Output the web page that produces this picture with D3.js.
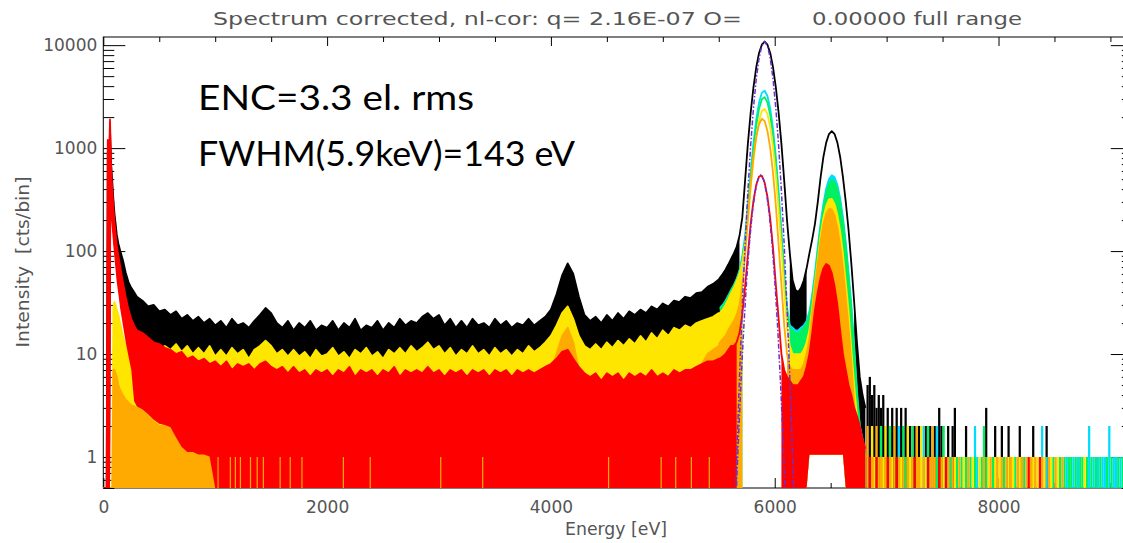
<!DOCTYPE html>
<html>
<head>
<meta charset="utf-8">
<script src="https://cdn.jsdelivr.net/npm/d3@7"></script>
<style>
  body { margin: 0; background: #fff; }
  svg { display: block; }
  .axis text { font-family: "DejaVu Sans", sans-serif; font-size: 17px; fill: #555; }
  .axis line { stroke: #000; }
  .label { font-family: "DejaVu Sans", sans-serif; font-size: 18px; fill: #555; white-space: pre; }
  .note { font-family: "Lato", sans-serif; font-size: 35px; fill: #000; }
</style>
</head>
<body>
<div id="chart"></div>
<script>
// ---- texts ----
const chartTitle = ["Spectrum corrected, nl-cor: q= 2.16E-07 O=", "0.00000 full range"];
const xAxisLabel = "Energy [eV]";
const yAxisLabel = "Intensity  [cts/bin]";
const notes = ["ENC=3.3 el. rms", "FWHM(5.9keV)=143 eV"];

// ---- axes ----
const floorCount = 0.5;
const topCount = 12000;
const energyMax = 9200;
const xTickValues = [0, 2000, 4000, 6000, 8000];
const xTickLabels = ["0", "2000", "4000", "6000", "8000"];
const yTickValues = [1, 10, 100, 1000, 10000];
const yTickLabels = ["1", "10", "100", "1000", "10000"];

// ---- low energy / continuum part (upper edge of the noisy histogram, cts/bin) ----
const bgEnergy = [0, 30, 40, 50, 60, 70, 80, 90, 100, 110, 120, 135, 150, 175, 200, 225, 250, 275, 300]
  .concat(d3.range(350, 5501, 50));

const bgBlack = [0.5, 0.5, 900, 500, 1500, 700, 480, 320, 230, 185, 145, 118, 102, 82, 62, 50, 44, 40, 36,
  33, 29, 30, 26, 27, 24, 26, 22, 24, 21,
  23, 20, 22, 19, 21, 18, 22, 19, 20, 18,
  21, 24, 28, 25, 20, 18, 21, 17, 20, 18,
  21, 17, 19, 18, 21, 17, 20, 18, 22, 17,
  19, 18, 21, 17, 20, 18, 22, 19, 21, 20,
  23, 25, 22, 24, 19, 22, 18, 21, 18, 22,
  19, 20, 18, 22, 19, 21, 18, 20, 19, 22,
  19, 21, 23, 27, 38, 58, 76, 60, 36, 24,
  21, 23, 20, 24, 21, 25, 22, 26, 24, 27,
  25, 29, 27, 31, 29, 33, 32, 36, 35, 39,
  40, 45, 48, 53];
const bgBlackLo = [0.5, 0.5, 0.5, 0.5, 0.5, 250, 180, 130, 100, 75, 58, 44, 34, 25, 18, 12, 8, 6, 4.5];

const bgYellow = [0.5, 0.5, 0.5, 0.5, 0.5, 0.5, 0.5, 28, 32, 30, 27, 24, 20, 15, 12, 10, 9, 8.5, 8.5,
  9, 9.5, 10, 11, 12, 11, 12.5, 10.5, 12, 10,
  11.5, 10, 12, 9.5, 11, 9.5, 11.5, 10, 11, 9,
  11, 12, 13.5, 12, 10, 11, 9.5, 11, 9.5, 10.5,
  9, 11, 9.5, 10, 11.5, 9.5, 10.5, 9, 11, 10,
  11.5, 9.5, 10.5, 9, 11, 10, 11.5, 10, 12, 10.5,
  11.5, 13, 11, 12, 10, 11.5, 9.5, 11, 10, 12,
  10, 11, 9.5, 11.5, 10, 11, 9.5, 11, 10, 12,
  10.5, 11.5, 13, 15, 19, 25, 29, 22, 15, 12,
  11, 12.5, 11, 13, 11.5, 13.5, 12, 14, 12.5, 15,
  13, 16, 14, 17, 15, 18, 17, 19, 18, 20,
  21, 22, 23, 25];

const bgOrange = [0.5, 0.5, 0.5, 0.5, 0.5, 0.5, 0.5, 7, 7, 6.5, 6, 5, 4.5, 4, 3.6, 3.4, 3.2, 3.1, 3,
  2.8, 2.5, 2.2, 2, 2, 1.9, 1.5, 1.2, 1.1, 1.1,
  1.05, 1.05, 1, 0.5, 0.5, 0.5, 0.5, 0.5, 0.5, 0.5,
  0.5, 0.5, 0.5, 0.5, 0.5, 0.5, 0.5, 0.5, 0.5, 0.5,
  0.5, 0.5, 0.5, 0.5, 0.5, 0.5, 0.5, 0.5, 0.5, 0.5,
  0.5, 0.5, 0.5, 0.5, 0.5, 0.5, 0.5, 0.5, 0.5, 0.5,
  0.5, 0.5, 0.5, 0.5, 0.5, 0.5, 0.5, 0.5, 0.5, 0.5,
  0.5, 0.5, 0.5, 0.5, 0.5, 0.5, 0.5, 0.5, 0.5, 0.5,
  0.5, 0.5, 0.5, 7, 10, 15, 18, 13, 7, 4,
  4, 4, 4, 4, 4, 4, 4, 4, 4, 4,
  4, 4, 4, 4, 4, 4, 4, 4, 4, 4,
  8, 10, 11, 12];

const bgRed = [0.5, 0.5, 1200, 700, 1900, 650, 400, 270, 190, 150, 115, 90, 72, 50, 36, 27, 22, 19, 17,
  16, 14.5, 13, 12.5, 11.5, 11, 10, 10.5, 9, 9.5,
  8.5, 9, 8, 8.5, 7.5, 8.5, 7, 8, 7.5, 8,
  7, 8, 8.5, 7.5, 7, 7.5, 6.5, 7.5, 6.5, 7,
  6, 7, 6.5, 7, 6, 7, 6.5, 7.5, 6, 7,
  6.5, 7, 6, 7, 6.5, 7.5, 6, 7, 6.5, 7,
  6.5, 7.5, 6.5, 7, 6, 7, 6.5, 7, 6, 7,
  6.5, 7, 6, 7, 6.5, 7, 6, 7, 6.5, 7,
  6.5, 7, 7.5, 8, 9, 10.5, 11, 9, 7.5, 6.5,
  6, 6.5, 5.5, 6.5, 6, 6.5, 5.5, 6.5, 6, 6.5,
  6, 7, 6, 6.5, 6, 7, 6.5, 7, 7, 7.5,
  8, 8.5, 8.5, 9];
const bgRedLo = [0.5, 0.5, 0.5, 0.5, 0.5, 200, 150, 110, 85, 65, 50, 38, 28, 19, 13, 9.5, 7, 3.5, 3.1,
  2.9, 2.6, 2.3, 2.1, 2.05, 1.95, 1.55, 1.25, 1.12, 1.12, 1.06, 1.06, 1.01];

// thin single-count orange bins inside the red continuum
const orangeSpikes = [1020, 1130, 1175, 1220, 1310, 1370, 1425, 1575, 1665, 1770, 2140, 2380,
  3010, 3385, 4510, 4980, 5110, 5250, 5410];

// ---- Mn K-alpha / K-beta region ----
const pkEnergy = d3.range(5510, 6811, 25);

const pkBlack = [55, 60, 66, 74, 84, 95, 110, 140, 210, 480, 1100, 2200, 3900, 6100, 8400, 10100, 10800,
  10100, 8400, 6100, 3900, 2200, 1100, 480, 200, 95, 52, 42, 40, 44, 52, 68, 95, 130, 185, 300, 520,
  820, 1130, 1370, 1460, 1370, 1130, 820, 520, 300, 160, 75, 32, 13, 6, 4, 3];
const pkBlackLo = [0.5, 0.5, 0.5, 0.5, 0.5, 0.5, 0.5, 0.5,
  null, null, null, null, null, null, null, null, null, null, null, null, null, null, null, null, null,
  0.5, 0.5, 0.5, 0.5, 0.5, 0.5, 0.5,
  null, null, null, null, null, null, null, null, null, null, null, null, null, null, null, null,
  0.5, 0.5, 0.5, 0.5, 0.5];

const pkCyan = [28, 30, 33, 37, 42, 47, 54, 65, 89, 140, 280, 580, 1120, 1900, 2770, 3440, 3610, 3210,
  2415, 1535, 826, 376, 160, 60, 29, 19, 18, 17, 17, 18, 19, 21, 26, 38, 62, 110, 188, 289, 405, 501,
  546, 522, 440, 327, 213, 123, 62, 30, 12, 4.5, 2, 1.5, 1];
const pkGreen = [27, 29, 32, 36, 41, 46, 52, 62, 84, 127, 245, 505, 970, 1645, 2400, 2980, 3130, 2780,
  2090, 1330, 715, 326, 140, 53, 26, 18, 17, 16, 16, 17, 18, 20, 24, 35, 56, 100, 170, 260, 365, 450,
  490, 470, 395, 293, 191, 110, 56, 27, 11, 4, 2, 1.4, 1];
const pkYellow = [25, 27, 30, 34, 39, 44, 51, 60, 77, 115, 200, 405, 760, 1280, 1850, 2290, 2402, 2135,
  1605, 1020, 548, 249, 105, 41, 18, 12, 10, 10, 10, 10, 11, 13, 17, 28, 50, 84, 142, 211, 275, 317,
  321, 286, 224, 155, 94, 50, 26, 11, 5, 2.5, 1.7, 1.3, 1];
const pkBandLo = [0.5, 0.5, 0.5, 0.5, 0.5, 0.5, 0.5, 0.5, 0.5,
  null, null, null, null, null, null, null, null, null, null, null, null, null, null, null, null,
  0.5, 0.5, 0.5, 0.5, 0.5, 0.5, 0.5,
  1.05, 1.05, 1.05, 1.05, 1.05, 1.05, 1.05, 1.05, 1.05, 1.05, 1.05, 1.05, 1.05,
  0.5, 0.5, 0.5, 0.5, 0.5, 0.5, 0.5, 0.5];

const pkOrange = [13, 14, 15, 17, 19, 21, 24, 30, 45, 90, 205, 439, 817, 1285, 1710, 1928, 1830, 1470,
  1000, 573, 278, 114, 47, 19, 10, 7.5, 7, 7, 7, 7, 8, 10, 14, 25, 45, 76, 124, 180, 229, 257,
  254, 221, 169, 114, 67, 35, 18, 8, 3.3, 2, 1.5, 1.2, 1];
const pkOrangeLo = [0.5, 0.5, 0.5, 0.5, 0.5, 0.5, 0.5, 0.5, 0.5,
  null, null, null, null, null, null, null, null, null, null, null, null, null, null, null,
  0.5, 0.5, 0.5, 0.5, 0.5, 0.5, 0.5, 0.5,
  1.05, 1.05, 1.05, 1.05, 1.05, 1.05, 1.05, 1.05, 1.05, 1.05, 1.05, 1.05, 1.05,
  0.5, 0.5, 0.5, 0.5, 0.5, 0.5, 0.5, 0.5];

const pkRed = [9, 9.5, 10, 11, 12, 12, 13, 16, 24, 45, 92, 184, 309, 440, 530, 539, 463, 337, 207, 107,
  47, 22, 10, 7, 6, 5.5, 5, 5, 5, 5.5, 6, 7.5, 10, 16, 27, 40, 55, 68, 75, 72, 61, 45.5, 30, 17, 10,
  7, 5, 4, 3, 2.5, 2, 1.5, 1.2];
const pkRedLo = [0.5, 0.5, 0.5, 0.5, 0.5, 0.5, 0.5,
  null, null, null, null, null, null, null, null, null, null, null, null, null, null, null,
  0.5, 0.5, 0.5, 0.5, 0.5, 0.5, 0.5, 0.5, 0.5, 0.5,
  1.05, 1.05, 1.05, 1.05, 1.05, 1.05, 1.05, 1.05, 1.05, 1.05, 1.05, 1.05, 1.05,
  0.5, 0.5, 0.5, 0.5, 0.5, 0.5, 0.5, 0.5];

// fitted K-alpha lines (dash-dot purple)
const fitAllEnergy = d3.range(5635, 6186, 25);
const fitAll = [0.14, 1.0, 5.9, 28, 114, 381, 1059, 2443, 4681, 7448, 9842, 10800, 9842, 7448, 4681,
  2443, 1059, 381, 114, 28, 5.9, 1.0, 0.14];
const fitRedEnergy = d3.range(5625, 6126, 25);
const fitRed = [0.05, 0.3, 1.43, 5.76, 19.3, 53.5, 123.5, 236.6, 376.5, 497.6, 546, 497.6, 376.5, 236.6,
  123.5, 53.5, 19.3, 5.76, 1.43, 0.3, 0.05];

// ---- sparse high-energy tail: [energy, counts] in 20 eV bins ----
const tailBinWidth = 20;
const tailBlack = [[6820, 5], [6840, 6], [6860, 4], [6880, 5], [6900, 3], [6920, 4], [6940, 3], [6960, 4],
  [6980, 2], [7000, 3], [7020, 2], [7040, 3], [7060, 2], [7080, 3], [7100, 2], [7120, 3], [7140, 2],
  [7160, 3], [7200, 2], [7240, 2], [7280, 2], [7340, 2], [7380, 2], [7420, 2], [7460, 3], [7480, 2],
  [7540, 2], [7580, 2], [7600, 3], [7700, 2], [7880, 3], [7960, 2], [8020, 2], [8080, 2], [8180, 2],
  [8300, 2], [8420, 2]];
const tailCyan = [[7100, 2], [7320, 2], [7440, 2], [7780, 2], [7800, 1], [8380, 2], [8420, 1], [8600, 1],
  [8660, 1], [8700, 1], [8800, 2], [8840, 1], [8880, 1], [8920, 1], [8940, 1], [8980, 2], [9020, 1],
  [9040, 1], [9080, 1], [9120, 1]];
const tailGreen = [[6940, 2], [7020, 2], [7140, 2], [7160, 1], [7220, 2], [7360, 2], [7440, 1], [7500, 2],
  [7560, 1], [7620, 1], [7660, 1], [7700, 1], [7740, 1], [7780, 1], [7840, 1], [7860, 2], [7880, 1],
  [7940, 1], [8040, 1], [8140, 1], [8220, 1], [8480, 1], [8540, 1], [8580, 1], [8620, 1], [8640, 1],
  [8680, 1], [8720, 1], [8740, 1], [8780, 1], [8820, 1], [8860, 1], [8900, 1], [8960, 1], [9000, 1],
  [9060, 1], [9100, 1]];
const tailYellow = [[6860, 2], [6880, 1], [6960, 1], [6980, 2], [7040, 1], [7120, 1], [7180, 2], [7200, 1],
  [7300, 2], [7340, 1], [7500, 1], [7600, 1], [7680, 1], [7760, 1], [7820, 1], [7900, 1], [7960, 1],
  [8000, 1], [8080, 1], [8120, 1], [8180, 1], [8300, 1], [8340, 1], [8400, 1], [8460, 1], [8520, 1],
  [8760, 1]];
const tailOrange = [[6820, 2], [6860, 1], [6900, 2], [6920, 1], [6940, 1], [6980, 1], [7020, 1], [7060, 2],
  [7100, 1], [7140, 1], [7180, 1], [7220, 1], [7260, 2], [7280, 1], [7320, 1], [7380, 1], [7400, 2],
  [7420, 1], [7480, 1], [7540, 1], [7580, 1], [7640, 1], [7720, 1], [7860, 1], [7920, 1], [7980, 1],
  [8020, 1], [8060, 1], [8100, 1], [8160, 1], [8200, 1], [8240, 1], [8280, 1], [8320, 1], [8380, 1],
  [8440, 1], [8500, 1], [8560, 1]];
const tailRed = [[6840, 1], [6900, 1], [7000, 1], [7080, 1], [7240, 1], [7360, 1], [7460, 1], [7520, 1],
  [8260, 1], [8360, 1]];

// ---------------------------------------------------------------
const width = 1123, height = 543;
const plot = { left: 103.3, right: 1132.8, top: 37, bottom: 488 };

const x = d3.scaleLinear().domain([0, energyMax]).range([plot.left, plot.right]);
const y = d3.scaleLog().domain([floorCount, topCount]).range([plot.bottom, plot.top]);
const yv = (v) => y(Math.max(v, floorCount * 0.5));

const svg = d3.select("#chart").append("svg")
  .attr("width", width).attr("height", height);

svg.append("clipPath").attr("id", "plotClip")
  .append("rect")
  .attr("x", plot.left).attr("y", plot.top)
  .attr("width", plot.right - plot.left).attr("height", plot.bottom - plot.top);

// minor ticks (axis decoration only)
const yMinor = [];
[0.1, 1, 10, 100, 1000].forEach(function (dec) {
  d3.range(2, 10).forEach(function (m) {
    const v = dec * m;
    if (v > floorCount && v < topCount) yMinor.push(v);
  });
});
yMinor.push(floorCount);
const xMinor = d3.range(0, energyMax + 1, 500).filter((v) => v % 2000 !== 0);

function drawAxis(axis, tx, ty) {
  const g = svg.append("g").attr("class", "axis")
    .attr("transform", `translate(${tx},${ty})`)
    .call(axis);
  g.select(".domain").remove();
  return g;
}
drawAxis(d3.axisLeft(y).tickValues(yTickValues).tickFormat((d, i) => yTickLabels[i])
  .tickSize(-22).tickPadding(6), plot.left, 0);
drawAxis(d3.axisLeft(y).tickValues(yMinor).tickFormat("").tickSize(-11), plot.left, 0);
drawAxis(d3.axisRight(y).tickValues(yTickValues).tickFormat("").tickSize(-22), plot.right, 0);
drawAxis(d3.axisRight(y).tickValues(yMinor).tickFormat("").tickSize(-11), plot.right, 0);
drawAxis(d3.axisBottom(x).tickValues(xTickValues).tickFormat((d, i) => xTickLabels[i])
  .tickSize(-10).tickPadding(13), 0, plot.bottom);
drawAxis(d3.axisBottom(x).tickValues(xMinor).tickFormat("").tickSize(-5), 0, plot.bottom);
drawAxis(d3.axisTop(x).tickValues(xTickValues).tickFormat("").tickSize(-9), 0, plot.top);
drawAxis(d3.axisTop(x).tickValues(xMinor).tickFormat("").tickSize(-5), 0, plot.top);

svg.append("rect")
  .attr("x", plot.left).attr("y", plot.top)
  .attr("width", plot.right - plot.left).attr("height", plot.bottom - plot.top)
  .attr("fill", "none").attr("stroke", "#000").attr("stroke-width", 1);

// build series: lo undefined -> down to floor, lo null -> outline only
function joinSeries(parts) {
  const pts = [];
  parts.forEach(function ([energies, hi, lo]) {
    energies.forEach(function (e, i) {
      let l = lo ? lo[i] : undefined;
      if (l === undefined) l = floorCount;
      pts.push({ e: e, hi: hi[i], lo: l });
    });
  });
  return pts;
}

const layers = [
  { color: "#000000", pts: joinSeries([[bgEnergy, bgBlack, bgBlackLo], [pkEnergy, pkBlack, pkBlackLo]]), tail: tailBlack },
  { color: "#00dcff", pts: joinSeries([[pkEnergy, pkCyan, pkBandLo]]), tail: tailCyan },
  { color: "#00f060", pts: joinSeries([[pkEnergy, pkGreen, pkBandLo]]), tail: tailGreen },
  { color: "#ffe600", pts: joinSeries([[bgEnergy, bgYellow], [pkEnergy, pkYellow, pkBandLo]]), tail: tailYellow },
  { color: "#ffaa00", pts: joinSeries([[bgEnergy, bgOrange], [pkEnergy, pkOrange, pkOrangeLo]]), tail: tailOrange },
  { color: "#ff0000", pts: joinSeries([[bgEnergy, bgRed, bgRedLo], [pkEnergy, pkRed, pkRedLo]]), tail: tailRed },
];

const plotArea = svg.append("g").attr("clip-path", "url(#plotClip)");

const area = d3.area()
  .defined((d) => d.lo !== null)
  .x((d) => x(d.e))
  .y0((d) => yv(d.lo))
  .y1((d) => yv(d.hi));
const line = d3.line()
  .x((d) => x(d.e))
  .y((d) => yv(d.hi));

layers.forEach(function (layer) {
  plotArea.append("path").datum(layer.pts)
    .attr("d", area).attr("fill", layer.color);
  plotArea.append("path").datum(layer.pts)
    .attr("d", line).attr("fill", "none")
    .attr("stroke", layer.color).attr("stroke-width", 1.8)
    .attr("stroke-linejoin", "round");
  plotArea.append("g").selectAll("rect")
    .data(layer.tail)
    .join("rect")
    .attr("x", (d) => x(d[0]))
    .attr("width", (d) => x(d[0] + tailBinWidth) - x(d[0]))
    .attr("y", (d) => y(d[1]))
    .attr("height", (d) => y(floorCount) - y(d[1]))
    .attr("fill", layer.color);
});

// orange single counts on top of the red continuum
plotArea.append("g").selectAll("rect")
  .data(orangeSpikes)
  .join("rect")
  .attr("x", (d) => x(d))
  .attr("width", 1.2)
  .attr("y", y(1))
  .attr("height", y(floorCount) - y(1))
  .attr("fill", "#ffaa00");

// fits
[[fitAllEnergy, fitAll], [fitRedEnergy, fitRed]].forEach(function ([es, vs]) {
  plotArea.append("path")
    .datum(es.map((e, i) => [e, vs[i]]))
    .attr("d", d3.line().x((d) => x(d[0])).y((d) => y(d[1])))
    .attr("fill", "none")
    .attr("stroke", "#6a30d0")
    .attr("stroke-width", 1.5)
    .attr("stroke-dasharray", "5,2,1.5,2");
});

// ---- texts ----
svg.append("text").attr("class", "label")
  .attr("x", 213).attr("y", 25)
  .attr("textLength", 529).attr("lengthAdjust", "spacingAndGlyphs")
  .text(chartTitle[0]);
svg.append("text").attr("class", "label")
  .attr("x", 812).attr("y", 25)
  .attr("textLength", 210).attr("lengthAdjust", "spacingAndGlyphs")
  .text(chartTitle[1]);

svg.append("text").attr("class", "label")
  .attr("x", 616).attr("y", 535)
  .attr("text-anchor", "middle")
  .attr("textLength", 102).attr("lengthAdjust", "spacingAndGlyphs")
  .text(xAxisLabel);

svg.append("text").attr("class", "label")
  .attr("transform", "translate(29,262) rotate(-90)")
  .attr("text-anchor", "middle")
  .attr("textLength", 171).attr("lengthAdjust", "spacingAndGlyphs")
  .text(yAxisLabel);

svg.append("text").attr("class", "note")
  .attr("x", 198).attr("y", 110)
  .attr("textLength", 276).attr("lengthAdjust", "spacingAndGlyphs")
  .text(notes[0]);
svg.append("text").attr("class", "note")
  .attr("x", 198).attr("y", 166)
  .attr("textLength", 377).attr("lengthAdjust", "spacingAndGlyphs")
  .text(notes[1]);
</script>
</body>
</html>
